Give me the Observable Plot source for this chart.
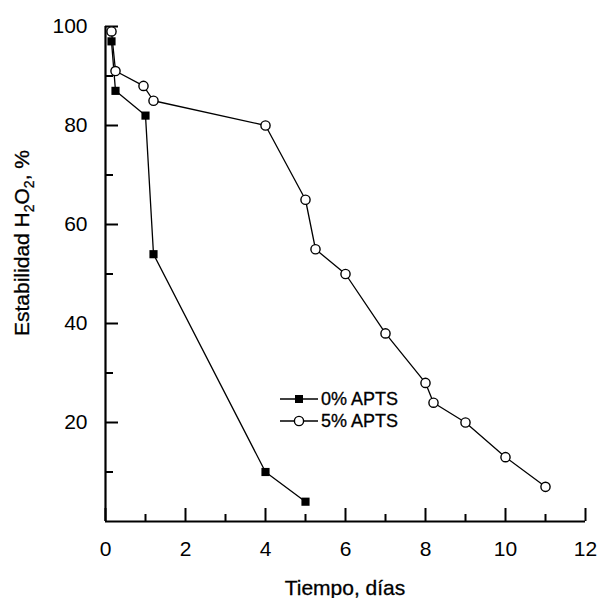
<!DOCTYPE html>
<html>
<head>
<meta charset="utf-8">
<script src="https://cdn.jsdelivr.net/npm/d3@7"></script>
<script src="https://cdn.jsdelivr.net/npm/@observablehq/plot@0.6"></script>
<style>
  html, body { margin: 0; padding: 0; background: #fff; }
  #chart { width: 609px; height: 598px; overflow: hidden; }
</style>
</head>
<body>
<div id="chart"></div>
<script>
// ---- data ----
const seriesNames = ["0% APTS", "5% APTS"];
const days0 = [0.15, 0.25, 1.0, 1.2, 4.0, 5.0];
const stab0 = [97, 87, 82, 54, 10, 4];
const days5 = [0.15, 0.25, 0.95, 1.2, 4.0, 5.0, 5.25, 6.0, 7.0, 8.0, 8.2, 9.0, 10.0, 11.0];
const stab5 = [99, 91, 88, 85, 80, 65, 55, 50, 38, 28, 24, 20, 13, 7];
const xTickLabels = [0, 2, 4, 6, 8, 10, 12];
const xMinorTicks = [1, 3, 5, 7, 9, 11];
const yTickLabels = [20, 40, 60, 80, 100];
const yMinorTicks = [10, 30, 50, 70, 90];
const xTitle = "Tiempo, días";
const yTitleParts = ["Estabilidad H", "2", "O", "2", ", %"];

const s0 = days0.map((d, i) => ({x: d, y: stab0[i]}));
const s5 = days5.map((d, i) => ({x: d, y: stab5[i]}));

const W = 609, H = 598;
const mL = 105, mR = 24, mT = 26, mB = 77;
const fw = W - mL - mR, fh = H - mT - mB;
const font = "'Liberation Sans', Arial, Helvetica, sans-serif";

const chart = Plot.plot({
  width: W, height: H,
  marginLeft: mL, marginRight: mR, marginTop: mT, marginBottom: mB,
  style: {fontFamily: font, background: "#fff", color: "#000", overflow: "visible"},
  x: {domain: [0, 12], axis: null},
  y: {domain: [0, 100], axis: null},
  marks: [
    Plot.axisX({ticks: xTickLabels, tickSize: 0, tickPadding: 20, fontSize: 21, label: null, fill: "#000", stroke: "#000", strokeWidth: 0.35}),
    Plot.axisY({ticks: yTickLabels, tickSize: 0, tickPadding: 18, fontSize: 21, label: null, fill: "#000", stroke: "#000", strokeWidth: 0.35}),
    Plot.tickX(xTickLabels, {x: d => d, insetTop: fh - 13, stroke: "#000", strokeWidth: 2}),
    Plot.tickX(xMinorTicks, {x: d => d, insetTop: fh - 7, stroke: "#000", strokeWidth: 2}),
    Plot.tickY(yTickLabels, {y: d => d, insetRight: fw - 13, stroke: "#000", strokeWidth: 2}),
    Plot.tickY(yMinorTicks, {y: d => d, insetRight: fw - 8, stroke: "#000", strokeWidth: 2}),
    Plot.ruleX([0], {stroke: "#000", strokeWidth: 2.2}),
    Plot.ruleY([0], {stroke: "#000", strokeWidth: 2.2}),
    Plot.line(s0, {x: "x", y: "y", stroke: "#000", strokeWidth: 1.3}),
    Plot.line(s5, {x: "x", y: "y", stroke: "#000", strokeWidth: 1.3}),
    Plot.dot(s0, {x: "x", y: "y", symbol: "square", r: 4.6, fill: "#000", stroke: "none"}),
    Plot.dot(s5, {x: "x", y: "y", symbol: "circle", r: 4.6, fill: "#fff", stroke: "#000", strokeWidth: 1.4})
  ]
});
document.getElementById("chart").appendChild(chart);

const svg = d3.select(chart);

// x title
svg.append("text")
  .attr("x", mL + fw / 2).attr("y", 595)
  .attr("text-anchor", "middle")
  .attr("font-family", font).attr("font-size", 21).attr("fill", "#000")
  .attr("stroke", "#000").attr("stroke-width", 0.3)
  .text(xTitle);

// y title with subscripts
const yt = svg.append("text")
  .attr("transform", "translate(29,243) rotate(-90)")
  .attr("text-anchor", "middle")
  .attr("font-family", font).attr("font-size", 21).attr("fill", "#000")
  .attr("stroke", "#000").attr("stroke-width", 0.3);
yTitleParts.forEach((p, i) => {
  const sub = (i === 1 || i === 3);
  const t = yt.append("tspan").text(p);
  if (sub) t.attr("font-size", 14).attr("dy", 5);
  else if (i > 0) t.attr("dy", -5);
});

// legend
const lg = svg.append("g").attr("font-family", font).attr("font-size", 18)
  .attr("fill", "#000").attr("text-anchor", "start");
const legendRows = [399, 421];
seriesNames.forEach((name, i) => {
  const y = legendRows[i];
  lg.append("line").attr("x1", 280).attr("x2", 318).attr("y1", y).attr("y2", y)
    .attr("stroke", "#000").attr("stroke-width", 1.3);
  if (i === 0) {
    lg.append("rect").attr("x", 295).attr("y", y - 4).attr("width", 8).attr("height", 8).attr("fill", "#000");
  } else {
    lg.append("circle").attr("cx", 299).attr("cy", y).attr("r", 4.6)
      .attr("fill", "#fff").attr("stroke", "#000").attr("stroke-width", 1.4);
  }
  lg.append("text").attr("x", 321).attr("y", y).attr("dy", "0.36em")
    .attr("text-anchor", "start").attr("stroke", "#000").attr("stroke-width", 0.3)
    .text(name);
});
</script>
</body>
</html>
